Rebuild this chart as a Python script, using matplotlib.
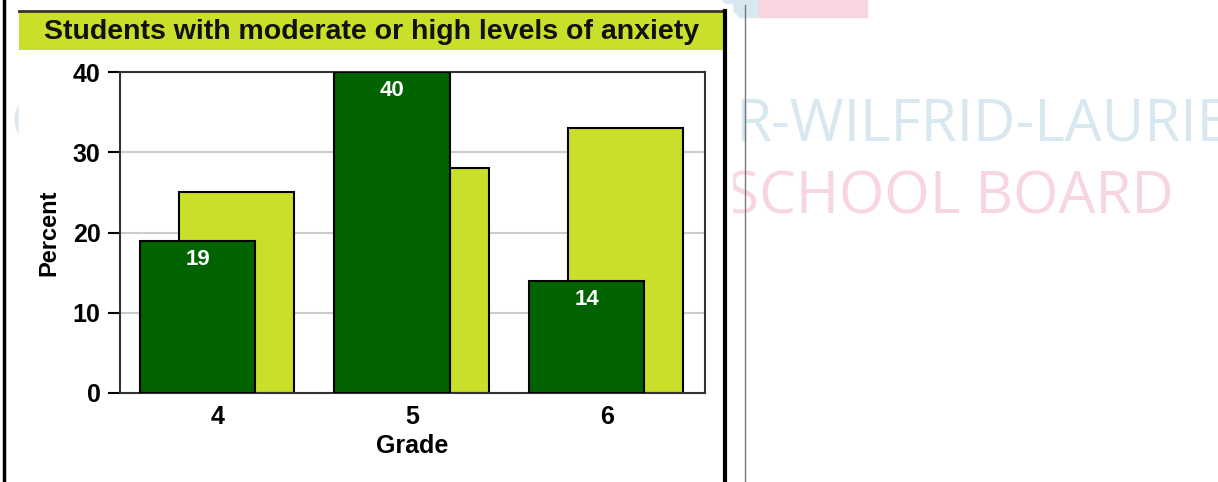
import matplotlib
matplotlib.use('Agg')
import matplotlib.pyplot as plt
from matplotlib.patches import Rectangle, Polygon
from matplotlib.lines import Line2D
import numpy as np

# Datos
grades = ['4', '5', '6']
dark_vals = [19, 40, 14]    # serie verde oscuro (con etiqueta)
light_vals = [25, 28, 33]   # serie verde claro
y_ticks = [0, 10, 20, 30, 40]
title = 'Students with moderate or high levels of anxiety'

W, H = 1218, 482
DARK = '#006300'
LIGHT = '#c9df29'
plt.rcParams['font.family'] = ['Liberation Sans', 'DejaVu Sans']

fig = plt.figure(figsize=(W / 100, H / 100), dpi=100)

def fx(x):
    return x / W

def fy(y):
    return 1 - y / H

# Marca de agua del fondo (cortada por el borde, como en el original)
fig.text(fx(735), fy(140), 'R-WILFRID-LAURIER', color='#d7e8f0', fontsize=42,
         family='Open Sans', ha='left', va='baseline', zorder=-3)
fig.text(fx(727), fy(213), 'SCHOOL BOARD', color='#f8d6df', fontsize=42,
         family='Open Sans', ha='left', va='baseline', zorder=-3)
fig.text(fx(10), fy(140), 'C', color='#dde9ef', fontsize=42,
         family='Open Sans', ha='left', va='baseline', zorder=-3)
fig.patches.append(Rectangle((fx(757), fy(17)), fx(867) - fx(757), 17 / H,
                             transform=fig.transFigure, color='#f8d6df', zorder=-3))
fig.patches.append(Polygon([(fx(722), fy(0)), (fx(757), fy(0)), (fx(757), fy(17)), (fx(740), fy(17))],
                           closed=True, transform=fig.transFigure, color='#d7e8f0', zorder=-3))

# Panel blanco del grafico
fig.patches.append(Rectangle((fx(19), 0), fx(732) - fx(19), fy(4),
                             transform=fig.transFigure, color='white', zorder=-2))

# Barra del titulo
fig.patches.append(Rectangle((fx(19), fy(50)), fx(725) - fx(19), 39 / H,
                             transform=fig.transFigure, facecolor=LIGHT, edgecolor='none', zorder=1))
fig.lines.append(Line2D([fx(19), fx(725)], [fy(11), fy(11)], transform=fig.transFigure,
                        color='#333333', lw=2, zorder=2))
fig.text(fx(372), fy(32), title, ha='center', va='center', fontsize=20.5,
         fontweight='bold', color='#111111', zorder=3)

# Bordes del panel
fig.lines.append(Line2D([fx(3.5), fx(3.5)], [0, 1], transform=fig.transFigure,
                        color='black', lw=2.5, zorder=2))
fig.lines.append(Line2D([fx(725), fx(725)], [0, fy(11)], transform=fig.transFigure,
                        color='black', lw=3, zorder=2))
fig.lines.append(Line2D([fx(745), fx(745)], [0, fy(5)], transform=fig.transFigure,
                        color='#777777', lw=1, zorder=2))

# Ejes
ax = fig.add_axes([fx(120), fy(393), fx(705) - fx(120), (393 - 72) / H])
x = np.arange(len(grades))
w = 0.595
ax.bar(x + 0.095, light_vals, width=w, color=LIGHT, edgecolor='black', linewidth=1.5, zorder=2)
bars = ax.bar(x - 0.105, dark_vals, width=w, color=DARK, edgecolor='black', linewidth=1.5, zorder=3)

for b, v in zip(bars, dark_vals):
    ax.annotate(str(v), (b.get_x() + b.get_width() / 2, v), xytext=(0, -13.5),
                textcoords='offset points', ha='center', va='center',
                color='white', fontsize=16, fontweight='bold', zorder=4)

ax.set_xlim(-0.504, 2.504)
ax.set_ylim(0, 40)
ax.set_xticks(x)
ax.set_xticklabels(grades)
ax.set_yticks(y_ticks)
ax.tick_params(axis='x', length=0, pad=9, labelsize=18)
ax.tick_params(axis='y', length=9, width=1.5, pad=5, labelsize=18, direction='out')
for t in ax.get_xticklabels() + ax.get_yticklabels():
    t.set_fontweight('bold')

ax.yaxis.grid(True, color='#cccccc', lw=1.5)
ax.set_axisbelow(True)
for s in ax.spines.values():
    s.set_color('#333333')
    s.set_linewidth(1.5)

ax.set_xlabel('Grade', fontsize=18, fontweight='bold', labelpad=3)
ax.set_ylabel('Percent', fontsize=17, fontweight='bold', labelpad=9)

fig.savefig('out.png', dpi=100)
